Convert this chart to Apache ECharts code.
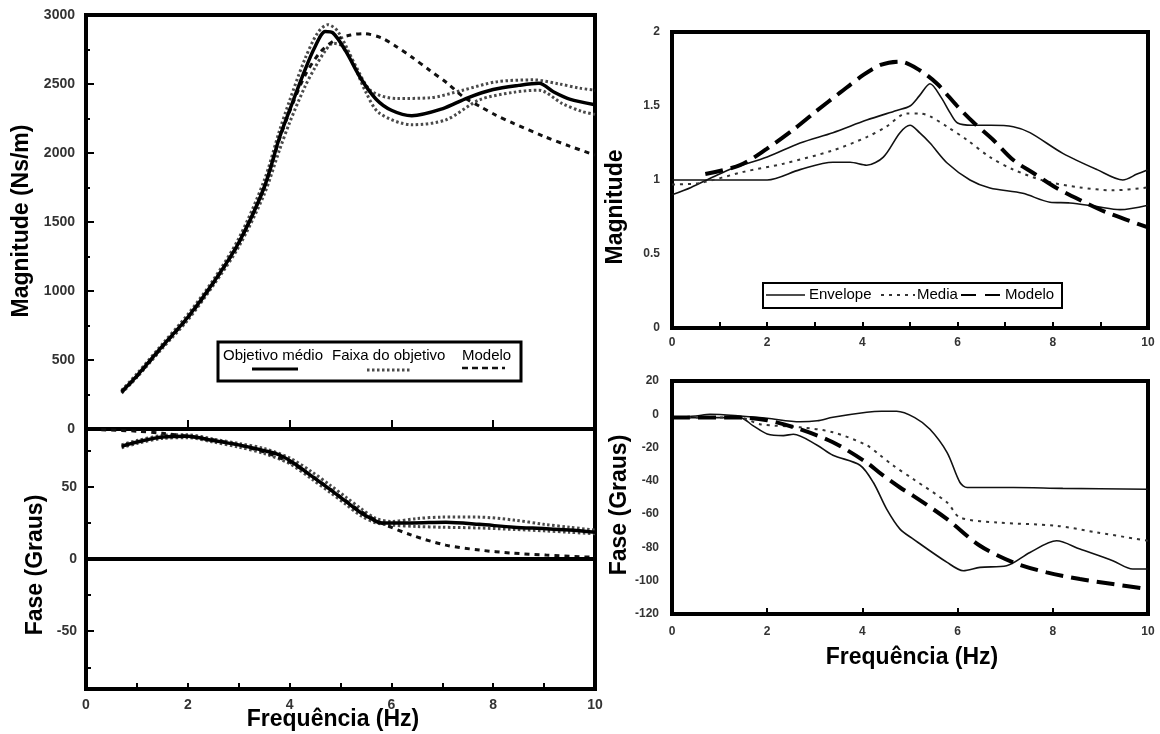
<!DOCTYPE html>
<html>
<head>
<meta charset="utf-8">
<script src="https://cdn.jsdelivr.net/npm/echarts@6.0.0/dist/echarts.min.js"></script>
<style>
  html, body { margin: 0; padding: 0; background: #fff; }
  #c { width: 1160px; height: 734px; }
</style>
</head>
<body>
<div id="c"></div>
<script>
// ---- Left panel, magnitude (Ns/m) vs frequency (Hz) ----
const magObjetivo = [[0.7,270],[1.0,385],[1.5,600],[2.0,810],[2.5,1060],[3.0,1350],[3.5,1750],[3.8,2110],[4.0,2310],[4.3,2600],[4.5,2770],[4.7,2880],[4.85,2870],[5.1,2740],[5.4,2540],[5.7,2390],[6.0,2310],[6.4,2270],[7.0,2320],[7.5,2400],[8.0,2460],[8.5,2490],[8.9,2505],[9.2,2440],[9.5,2390],[10.0,2350]];
const magFaixaSup = [[0.7,280],[1.0,400],[1.5,615],[2.0,830],[2.5,1080],[3.0,1380],[3.5,1800],[3.8,2160],[4.0,2380],[4.3,2680],[4.55,2870],[4.75,2930],[4.95,2880],[5.3,2630],[5.6,2450],[6.1,2395],[6.75,2400],[7.4,2455],[8.05,2515],[8.8,2530],[9.3,2500],[9.7,2470],[10.0,2455]];
const magFaixaInf = [[0.7,260],[1.0,375],[1.5,585],[2.0,790],[2.5,1040],[3.0,1320],[3.5,1700],[3.8,2020],[4.0,2220],[4.3,2480],[4.5,2620],[4.7,2740],[4.85,2795],[5.1,2760],[5.5,2440],[5.76,2290],[6.4,2205],[7.07,2240],[7.73,2385],[8.4,2440],[8.9,2455],[9.35,2360],[9.75,2300],[10.0,2280]];
const magModelo = [[0.7,265],[1.0,380],[1.5,595],[2.0,805],[2.5,1055],[3.0,1345],[3.5,1750],[3.8,2100],[4.0,2300],[4.3,2560],[4.6,2730],[4.9,2820],[5.2,2855],[5.45,2865],[5.8,2835],[6.1,2770],[6.4,2695],[6.75,2600],[7.1,2505],[7.4,2410],[7.75,2335],[8.05,2275],[8.4,2215],[9.0,2120],[9.5,2050],[10.0,1985]];

// ---- Left panel, phase (degrees) ----
const faseObjetivo = [[0.7,78],[1.0,81],[1.5,84.5],[2.0,85],[2.5,82],[3.0,79],[3.5,75],[3.8,72],[4.1,66],[4.45,57],[4.8,48],[5.1,40],[5.4,32],[5.6,28],[5.8,25],[6.4,25],[7.07,25.5],[7.73,24],[8.4,22],[9.04,21],[9.5,20],[10.0,18.5]];
const faseFaixaSup = [[0.7,79],[1.0,82],[1.5,85.5],[2.0,86],[2.5,83],[3.0,80],[3.5,76.5],[4.0,70],[4.45,60],[4.8,51],[5.1,43],[5.4,35],[5.7,28],[6.0,26],[6.5,28],[7.0,29],[7.7,29],[8.4,27],[9.0,24],[9.5,22],[10.0,20]];
const faseFaixaInf = [[0.7,77],[1.0,80],[1.5,83.5],[2.0,84],[2.5,81],[3.0,77.5],[3.5,73],[4.0,66],[4.45,55],[4.8,46],[5.1,38],[5.4,30],[5.7,25],[6.0,23.5],[6.5,22.5],[7.0,22],[7.7,21.5],[8.4,20.5],[9.0,19.5],[9.5,18.5],[10.0,17.5]];
const faseModelo = [[0.3,89.5],[1.0,88.5],[1.5,87],[2.0,85],[2.5,82.5],[3.0,79],[3.5,74],[4.0,67],[4.5,56],[5.0,43],[5.4,33],[5.8,25],[6.4,16.5],[7.07,9.6],[7.73,6.2],[8.37,4.1],[9.04,2.7],[9.7,1.6],[10.0,1.2]];

// ---- Right panel, normalised magnitude ----
const envMagA = [[0,0.90],[0.4,0.95],[0.86,1.02],[1.28,1.08],[2.0,1.155],[2.69,1.25],[3.38,1.32],[4.09,1.405],[4.72,1.47],[5.0,1.50],[5.2,1.57],[5.42,1.65],[5.65,1.56],[5.85,1.45],[6.0,1.385],[6.3,1.37],[6.7,1.37],[7.17,1.36],[7.52,1.32],[8.21,1.18],[8.93,1.07],[9.47,1.0],[9.77,1.04],[10.0,1.07]];
const envMagB = [[0,1.0],[0.8,1.0],[1.4,1.0],[2.0,1.0],[2.69,1.07],[3.38,1.12],[3.74,1.12],[4.09,1.10],[4.44,1.155],[4.79,1.32],[5.0,1.37],[5.2,1.32],[5.42,1.25],[5.78,1.115],[6.26,1.0],[6.68,0.946],[7.37,0.91],[7.94,0.85],[8.36,0.845],[8.93,0.82],[9.41,0.80],[10.0,0.83]];
const mediaMag = [[0,0.97],[0.59,0.98],[1.5,1.055],[2.34,1.11],[3.38,1.20],[4.09,1.29],[4.5,1.36],[4.93,1.45],[5.2,1.45],[5.42,1.43],[5.78,1.36],[6.2,1.27],[6.68,1.155],[7.17,1.07],[7.87,0.99],[8.57,0.95],[9.26,0.93],[10.0,0.95]];
const modeloMag = [[0.7,1.04],[1.43,1.10],[1.99,1.21],[2.55,1.34],[3.05,1.47],[3.53,1.59],[4.02,1.71],[4.4,1.78],[4.79,1.80],[5.21,1.74],[5.57,1.65],[5.99,1.50],[6.33,1.39],[6.75,1.27],[7.17,1.135],[7.59,1.047],[8.08,0.946],[8.57,0.865],[9.14,0.78],[10.0,0.68]];

// ---- Right panel, phase (degrees) ----
const envFaseA = [[0,-2],[0.5,-1],[0.8,0],[1.43,-1],[2.0,-2.4],[2.69,-4.5],[3.05,-3.9],[3.38,-1.8],[4.09,1.2],[4.4,1.8],[4.72,1.8],[5.1,-2],[5.42,-9],[5.78,-23],[6.05,-41],[6.2,-44],[7.17,-44],[8.21,-44.5],[10.0,-45]];
const envFaseB = [[0,-2],[1.43,-2],[1.7,-6.8],[2.0,-11.8],[2.34,-12.8],[2.55,-12],[3.05,-18.6],[3.38,-24.6],[3.95,-30.6],[4.23,-41],[4.51,-57],[4.79,-69],[5.07,-75],[5.78,-89],[6.12,-94],[6.47,-92],[7.03,-91],[7.52,-83],[8.08,-76],[8.57,-81],[9.26,-88],[9.68,-93],[10.0,-93]];
const mediaFase = [[0,-2],[1.43,-2],[1.85,-6],[2.69,-7.8],[3.38,-10.8],[4.09,-18.6],[4.37,-24.6],[4.64,-30.6],[5.07,-39],[5.78,-53],[6.05,-62],[6.83,-65],[8.08,-67],[8.93,-71],[10.0,-76]];
const modeloFase = [[0,-2],[1.43,-2],[2.0,-3.6],[2.69,-9],[3.38,-16.8],[4.09,-29],[4.4,-36],[4.79,-44],[5.07,-49],[5.78,-63],[6.47,-79],[7.17,-89],[7.87,-95],[8.57,-99],[9.26,-102],[10.0,-105]];

// tick positions of the left phase axis
const faseTicksMajor = [-50, 0, 50];
const faseTicksMinor = [-75, -25, 25, 75];

const FONT = '"Liberation Sans", Arial, sans-serif';

const tickLabel = (size, margin) => ({
  show: true, fontFamily: FONT, fontSize: size, fontWeight: 'bold',
  color: '#333', margin, showMinLabel: true, showMaxLabel: true,
  formatter: (v) => String(v)
});
const tickStyle = { color: '#000', width: 2 };
const noSplit = { show: false };

function line(data, xi, yi, style, z) {
  return {
    type: 'line', data, xAxisIndex: xi, yAxisIndex: yi,
    smooth: 0.3, showSymbol: false, symbol: 'none', silent: true,
    lineStyle: style, z: z || 2, animation: false
  };
}

const chart = echarts.init(document.getElementById('c'), null, { renderer: 'canvas' });

const option = {
  backgroundColor: '#fff',
  animation: false,
  grid: [
    { left: 86, top: 15, width: 509, height: 414, show: true, borderColor: '#000', borderWidth: 4, containLabel: false },
    { left: 86, top: 429, width: 509, height: 260, show: true, borderColor: '#000', borderWidth: 4, containLabel: false },
    { left: 672, top: 32, width: 476, height: 296, show: true, borderColor: '#000', borderWidth: 4, containLabel: false },
    { left: 672, top: 381, width: 476, height: 233, show: true, borderColor: '#000', borderWidth: 4, containLabel: false }
  ],
  xAxis: [
    { gridIndex: 0, type: 'value', min: 0, max: 10, interval: 2,
      axisLine: { show: false }, axisLabel: { show: false },
      axisTick: { show: true, inside: true, length: 9, lineStyle: tickStyle },
      splitLine: noSplit },
    { gridIndex: 1, type: 'value', min: 0, max: 10, interval: 2,
      axisLine: { show: false, onZero: false }, axisLabel: tickLabel(14, 9),
      axisTick: { show: true, inside: true, length: 6, lineStyle: tickStyle },
      minorTick: { show: true, splitNumber: 2, length: 6, lineStyle: tickStyle },
      splitLine: noSplit, minorSplitLine: noSplit },
    { gridIndex: 2, type: 'value', min: 0, max: 10, interval: 2,
      axisLine: { show: false }, axisLabel: tickLabel(12, 9),
      axisTick: { show: true, inside: true, length: 6, lineStyle: tickStyle },
      minorTick: { show: true, splitNumber: 2, length: 6, lineStyle: tickStyle },
      splitLine: noSplit, minorSplitLine: noSplit },
    { gridIndex: 3, type: 'value', min: 0, max: 10, interval: 2,
      axisLine: { show: false, onZero: false }, axisLabel: tickLabel(12, 12),
      axisTick: { show: true, inside: true, length: 6, lineStyle: tickStyle },
      splitLine: noSplit }
  ],
  yAxis: [
    { gridIndex: 0, type: 'value', min: 0, max: 3000, interval: 500, position: 'left',
      axisLine: { show: false }, axisLabel: tickLabel(14, 11),
      axisTick: { show: true, inside: true, length: 8, lineStyle: tickStyle },
      minorTick: { show: true, splitNumber: 2, length: 4, lineStyle: tickStyle },
      splitLine: noSplit, minorSplitLine: noSplit },
    { gridIndex: 1, type: 'value', min: -90, max: 90, position: 'left',
      axisLine: { show: false },
      axisLabel: Object.assign(tickLabel(14, 9), { customValues: faseTicksMajor }),
      axisTick: { show: true, inside: true, length: 8, lineStyle: tickStyle, customValues: faseTicksMajor },
      splitLine: noSplit },
    { gridIndex: 1, type: 'value', min: -90, max: 90, position: 'left', offset: 0,
      axisLine: { show: false }, axisLabel: { show: false },
      axisTick: { show: true, inside: true, length: 5, lineStyle: tickStyle, customValues: faseTicksMinor },
      splitLine: noSplit },
    { gridIndex: 2, type: 'value', min: 0, max: 2, interval: 0.5, position: 'left',
      axisLine: { show: false }, axisLabel: tickLabel(12, 12),
      axisTick: { show: false }, splitLine: noSplit },
    { gridIndex: 3, type: 'value', min: -120, max: 20, interval: 20, position: 'left',
      axisLine: { show: false }, axisLabel: tickLabel(12, 13),
      axisTick: { show: false }, splitLine: noSplit }
  ],
  series: [
    // left magnitude
    line(magFaixaSup, 0, 0, { color: '#4a4a4a', width: 3, type: [2.5, 2.5] }),
    line(magFaixaInf, 0, 0, { color: '#4a4a4a', width: 3, type: [2.5, 2.5] }),
    line(magModelo, 0, 0, { color: '#111', width: 3, type: [5, 5] }),
    line(magObjetivo, 0, 0, { color: '#000', width: 3.5 }, 3),
    // left phase
    Object.assign(line(faseFaixaSup, 1, 1, { color: '#4a4a4a', width: 3, type: [2.5, 2.5] }), {
      markLine: {
        silent: true, symbol: 'none', animation: false,
        label: { show: false },
        lineStyle: { color: '#000', width: 4, type: 'solid' },
        data: [{ yAxis: 0 }]
      }
    }),
    line(faseFaixaInf, 1, 1, { color: '#4a4a4a', width: 3, type: [2.5, 2.5] }),
    line(faseModelo, 1, 1, { color: '#111', width: 3, type: [5, 5] }),
    line(faseObjetivo, 1, 1, { color: '#000', width: 3.5 }, 3),
    // right magnitude
    line(envMagA, 2, 3, { color: '#111', width: 1.6 }),
    line(envMagB, 2, 3, { color: '#111', width: 1.6 }),
    line(mediaMag, 2, 3, { color: '#333', width: 2, type: [3, 5] }),
    line(modeloMag, 2, 3, { color: '#000', width: 4, type: [18, 8] }, 3),
    // right phase
    line(envFaseA, 3, 4, { color: '#111', width: 1.6 }),
    line(envFaseB, 3, 4, { color: '#111', width: 1.6 }),
    line(mediaFase, 3, 4, { color: '#333', width: 2, type: [3, 5] }),
    line(modeloFase, 3, 4, { color: '#000', width: 4, type: [18, 8] }, 3)
  ],
  graphic: [
    // axis titles
    { type: 'text', x: 22, y: 221, rotation: Math.PI / 2,
      style: { text: 'Magnitude (Ns/m)', font: 'bold 23px ' + FONT, fill: '#000', textAlign: 'center', textVerticalAlign: 'middle' } },
    { type: 'text', x: 36, y: 565, rotation: Math.PI / 2,
      style: { text: 'Fase (Graus)', font: 'bold 23px ' + FONT, fill: '#000', textAlign: 'center', textVerticalAlign: 'middle' } },
    { type: 'text', x: 333, y: 720,
      style: { text: 'Frequência (Hz)', font: 'bold 23px ' + FONT, fill: '#000', textAlign: 'center', textVerticalAlign: 'middle' } },
    { type: 'text', x: 616, y: 207, rotation: Math.PI / 2,
      style: { text: 'Magnitude', font: 'bold 23px ' + FONT, fill: '#000', textAlign: 'center', textVerticalAlign: 'middle' } },
    { type: 'text', x: 620, y: 505, rotation: Math.PI / 2,
      style: { text: 'Fase (Graus)', font: 'bold 23px ' + FONT, fill: '#000', textAlign: 'center', textVerticalAlign: 'middle' } },
    { type: 'text', x: 912, y: 658,
      style: { text: 'Frequência (Hz)', font: 'bold 23px ' + FONT, fill: '#000', textAlign: 'center', textVerticalAlign: 'middle' } },

    // legend of the left panel (line samples under the labels)
    { type: 'rect', shape: { x: 218, y: 342, width: 303, height: 39 },
      style: { fill: '#fff', stroke: '#000', lineWidth: 3 }, z: 10 },
    { type: 'text', x: 223, y: 356, z: 11,
      style: { text: 'Objetivo médio', font: '15px ' + FONT, fill: '#000', textVerticalAlign: 'middle' } },
    { type: 'text', x: 332, y: 356, z: 11,
      style: { text: 'Faixa do objetivo', font: '15px ' + FONT, fill: '#000', textVerticalAlign: 'middle' } },
    { type: 'text', x: 462, y: 356, z: 11,
      style: { text: 'Modelo', font: '15px ' + FONT, fill: '#000', textVerticalAlign: 'middle' } },
    { type: 'line', z: 11, shape: { x1: 252, y1: 369, x2: 298, y2: 369 },
      style: { stroke: '#000', lineWidth: 3 } },
    { type: 'line', z: 11, shape: { x1: 367, y1: 370, x2: 410, y2: 370 },
      style: { stroke: '#4a4a4a', lineWidth: 3, lineDash: [2.5, 2.5] } },
    { type: 'line', z: 11, shape: { x1: 462, y1: 368, x2: 505, y2: 368 },
      style: { stroke: '#111', lineWidth: 2.5, lineDash: [6, 4] } },

    // legend of the right panel
    { type: 'rect', shape: { x: 763, y: 283, width: 299, height: 25 },
      style: { fill: '#fff', stroke: '#000', lineWidth: 2 }, z: 10 },
    { type: 'line', z: 11, shape: { x1: 766, y1: 295, x2: 805, y2: 295 },
      style: { stroke: '#111', lineWidth: 1.6 } },
    { type: 'text', x: 809, y: 295, z: 11,
      style: { text: 'Envelope', font: '15px ' + FONT, fill: '#000', textVerticalAlign: 'middle' } },
    { type: 'line', z: 11, shape: { x1: 881, y1: 295, x2: 915, y2: 295 },
      style: { stroke: '#333', lineWidth: 2, lineDash: [3, 5] } },
    { type: 'text', x: 917, y: 295, z: 11,
      style: { text: 'Media', font: '15px ' + FONT, fill: '#000', textVerticalAlign: 'middle' } },
    { type: 'line', z: 11, shape: { x1: 961, y1: 295, x2: 1003, y2: 295 },
      style: { stroke: '#000', lineWidth: 2, lineDash: [15, 9] } },
    { type: 'text', x: 1005, y: 295, z: 11,
      style: { text: 'Modelo', font: '15px ' + FONT, fill: '#000', textVerticalAlign: 'middle' } }
  ]
};

chart.setOption(option);
</script>
</body>
</html>
